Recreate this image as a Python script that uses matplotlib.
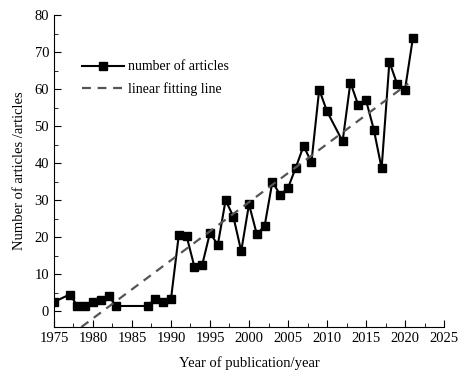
import numpy as np
import matplotlib
matplotlib.use("Agg")
import matplotlib.pyplot as plt
from matplotlib.ticker import MultipleLocator

plt.rcParams['font.family'] = ['Liberation Serif', 'DejaVu Serif']

# articles per year
years = [1975, 1977, 1978, 1979, 1980, 1981, 1982, 1983, 1987, 1988, 1989, 1990,
         1991, 1992, 1993, 1994, 1995, 1996, 1997, 1998, 1999, 2000, 2001, 2002,
         2003, 2004, 2005, 2006, 2007, 2008, 2009, 2010, 2012, 2013, 2014, 2015,
         2016, 2017, 2018, 2019, 2020, 2021]
counts = [2.5, 4.5, 1.5, 1.5, 2.4, 2.9, 4.0, 1.4, 1.4, 3.4, 2.4, 3.3,
          20.6, 20.3, 12.0, 12.5, 21.2, 17.9, 30.0, 25.5, 16.2, 28.9, 20.8, 23.0,
          35.0, 31.4, 33.3, 38.8, 44.7, 40.2, 59.9, 54.0, 45.9, 61.8, 55.7, 57.0,
          49.1, 38.6, 67.4, 61.3, 59.9, 73.7]

# end points of the fitted line as drawn in the reference
fit_years = [1978.5, 2020.4]
fit_vals = [-4.3, 61.5]

fig = plt.figure(figsize=(4.63, 3.7), dpi=100)
ax = fig.add_axes([0.1166, 0.116, 0.8424, 0.843])

ax.plot(years, counts, color='black', lw=1.5, marker='s', ms=5.5,
        label='number of articles')
ax.plot(fit_years, fit_vals, color='#555555', lw=1.6, ls=(0, (4, 3)),
        label='linear fitting line')

ax.set_xlim(1975, 2025)
ax.set_ylim(-4.3, 80)
ax.xaxis.set_major_locator(MultipleLocator(5))
ax.xaxis.set_minor_locator(MultipleLocator(2.5))
ax.yaxis.set_major_locator(MultipleLocator(10))
ax.yaxis.set_minor_locator(MultipleLocator(5))
ax.tick_params(which='both', direction='in', labelsize=10.5)
ax.tick_params(which='major', length=5)
ax.tick_params(which='minor', length=3)
for s in ['top', 'right']:
    ax.spines[s].set_visible(False)

ax.set_xlabel('Year of publication/year', fontsize=10.5, labelpad=8)
ax.set_ylabel('Number of articles /articles', fontsize=10.5, labelpad=6)

ax.legend(loc='upper left', bbox_to_anchor=(0.04, 0.895), frameon=False,
          fontsize=10, handlelength=3.0, handletextpad=0.3, labelspacing=0.65)

fig.savefig('out.png', dpi=100)
